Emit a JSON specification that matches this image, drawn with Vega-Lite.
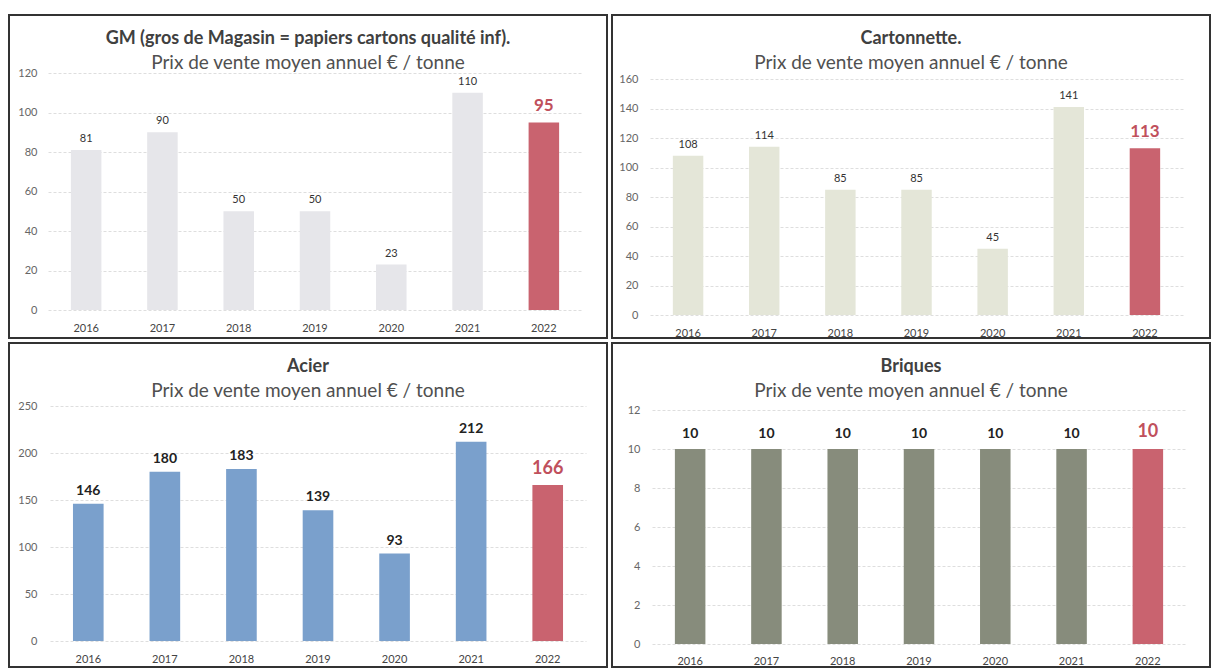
{
  "$schema": "https://vega.github.io/schema/vega-lite/v6.json",
  "background": "white",
  "padding": {"left": 8, "top": 14, "right": 0, "bottom": 0},
  "config": {
    "font": "Lato",
    "view": {"stroke": "#333333", "strokeWidth": 2},
    "concat": {"spacing": 3},
    "axis": {"labelFont": "Lato", "labelColor": "#666666", "labelFontSize": 11},
    "title": {"font": "Lato", "fontSize": 18, "fontWeight": "bold", "color": "#404040", "subtitleFont": "Lato", "subtitleFontSize": 19, "subtitleColor": "#505050", "subtitlePadding": 6, "anchor": "middle", "offset": -58}
  },
  "datasets": {
    "prix": [
      {"panel": "GM", "year": "2016", "value": 81},
      {"panel": "GM", "year": "2017", "value": 90},
      {"panel": "GM", "year": "2018", "value": 50},
      {"panel": "GM", "year": "2019", "value": 50},
      {"panel": "GM", "year": "2020", "value": 23},
      {"panel": "GM", "year": "2021", "value": 110},
      {"panel": "GM", "year": "2022", "value": 95},
      {"panel": "Cartonnette", "year": "2016", "value": 108},
      {"panel": "Cartonnette", "year": "2017", "value": 114},
      {"panel": "Cartonnette", "year": "2018", "value": 85},
      {"panel": "Cartonnette", "year": "2019", "value": 85},
      {"panel": "Cartonnette", "year": "2020", "value": 45},
      {"panel": "Cartonnette", "year": "2021", "value": 141},
      {"panel": "Cartonnette", "year": "2022", "value": 113},
      {"panel": "Acier", "year": "2016", "value": 146},
      {"panel": "Acier", "year": "2017", "value": 180},
      {"panel": "Acier", "year": "2018", "value": 183},
      {"panel": "Acier", "year": "2019", "value": 139},
      {"panel": "Acier", "year": "2020", "value": 93},
      {"panel": "Acier", "year": "2021", "value": 212},
      {"panel": "Acier", "year": "2022", "value": 166},
      {"panel": "Briques", "year": "2016", "value": 10},
      {"panel": "Briques", "year": "2017", "value": 10},
      {"panel": "Briques", "year": "2018", "value": 10},
      {"panel": "Briques", "year": "2019", "value": 10},
      {"panel": "Briques", "year": "2020", "value": 10},
      {"panel": "Briques", "year": "2021", "value": 10},
      {"panel": "Briques", "year": "2022", "value": 10}
    ]
  },
  "columns": 2,
  "concat": [
    {
      "width": 598, "height": 323,
      "data": {"name": "prix"},
      "transform": [{"filter": "datum.panel == 'GM'"}],
      "title": {"text": "GM (gros de Magasin = papiers cartons qualité inf).", "subtitle": "Prix de vente moyen annuel €  / tonne"},
      "encoding": {
        "x": {"field": "year", "type": "ordinal", "title": null,
          "scale": {"range": [39, 573], "paddingInner": 0.6, "paddingOuter": 0.3},
          "axis": {"offset": -26, "domain": false, "ticks": false, "labelPadding": 10, "labelAngle": 0, "labelColor": "#444444"}},
        "y": {"field": "value", "type": "quantitative", "title": null,
          "scale": {"domain": [0, 120], "range": [295, 58], "nice": false},
          "axis": {"values": [0, 20, 40, 60, 80, 100, 120], "offset": -38, "domain": false, "ticks": false, "labelPadding": 10, "gridColor": "#dedede", "gridDash": [3, 2]}}
      },
      "layer": [
        {"mark": {"type": "bar"}, "encoding": {"color": {"condition": {"test": "datum.year == '2022'", "value": "#c9636f"}, "value": "#e6e6ea"}}},
        {"transform": [{"filter": "datum.year != '2022'"}], "mark": {"type": "text", "baseline": "bottom", "dy": -6, "fontSize": 11, "color": "#333333"}, "encoding": {"text": {"field": "value"}}},
        {"transform": [{"filter": "datum.year == '2022'"}], "mark": {"type": "text", "baseline": "bottom", "dy": -7, "fontSize": 17, "fontWeight": "bold", "color": "#c0505c"}, "encoding": {"text": {"field": "value"}}}
      ]
    },
    {
      "width": 598, "height": 323,
      "data": {"name": "prix"},
      "transform": [{"filter": "datum.panel == 'Cartonnette'"}],
      "title": {"text": "Cartonnette.", "subtitle": "Prix de vente moyen annuel  € / tonne"},
      "encoding": {
        "x": {"field": "year", "type": "ordinal", "title": null,
          "scale": {"range": [38, 571], "paddingInner": 0.6, "paddingOuter": 0.3},
          "axis": {"offset": -21, "domain": false, "ticks": false, "labelPadding": 10, "labelAngle": 0, "labelColor": "#444444"}},
        "y": {"field": "value", "type": "quantitative", "title": null,
          "scale": {"domain": [0, 160], "range": [300, 64], "nice": false},
          "axis": {"values": [0, 20, 40, 60, 80, 100, 120, 140, 160], "offset": -36, "domain": false, "ticks": false, "labelPadding": 10, "gridColor": "#dedede", "gridDash": [3, 2]}}
      },
      "layer": [
        {"mark": {"type": "bar"}, "encoding": {"color": {"condition": {"test": "datum.year == '2022'", "value": "#c9636f"}, "value": "#e4e6d8"}}},
        {"transform": [{"filter": "datum.year != '2022'"}], "mark": {"type": "text", "baseline": "bottom", "dy": -6, "fontSize": 11, "color": "#333333"}, "encoding": {"text": {"field": "value"}}},
        {"transform": [{"filter": "datum.year == '2022'"}], "mark": {"type": "text", "baseline": "bottom", "dy": -7, "fontSize": 17, "fontWeight": "bold", "color": "#c0505c"}, "encoding": {"text": {"field": "value"}}}
      ]
    },
    {
      "width": 598, "height": 324,
      "data": {"name": "prix"},
      "transform": [{"filter": "datum.panel == 'Acier'"}],
      "title": {"text": "Acier", "subtitle": "Prix de vente moyen annuel  € / tonne"},
      "encoding": {
        "x": {"field": "year", "type": "ordinal", "title": null,
          "scale": {"range": [41, 577], "paddingInner": 0.6, "paddingOuter": 0.3},
          "axis": {"offset": -24, "domain": false, "ticks": false, "labelPadding": 10, "labelAngle": 0, "labelColor": "#444444"}},
        "y": {"field": "value", "type": "quantitative", "title": null,
          "scale": {"domain": [0, 250], "range": [298, 63], "nice": false},
          "axis": {"values": [0, 50, 100, 150, 200, 250], "offset": -38, "domain": false, "ticks": false, "labelPadding": 10, "gridColor": "#dedede", "gridDash": [3, 2]}}
      },
      "layer": [
        {"mark": {"type": "bar"}, "encoding": {"color": {"condition": {"test": "datum.year == '2022'", "value": "#c9636f"}, "value": "#7aa0cc"}}},
        {"transform": [{"filter": "datum.year != '2022'"}], "mark": {"type": "text", "baseline": "bottom", "dy": -6, "fontSize": 14, "fontWeight": "bold", "color": "#222222"}, "encoding": {"text": {"field": "value"}}},
        {"transform": [{"filter": "datum.year == '2022'"}], "mark": {"type": "text", "baseline": "bottom", "dy": -7, "fontSize": 18, "fontWeight": "bold", "color": "#c0505c"}, "encoding": {"text": {"field": "value"}}}
      ]
    },
    {
      "width": 598, "height": 324,
      "data": {"name": "prix"},
      "transform": [{"filter": "datum.panel == 'Briques'"}],
      "title": {"text": "Briques", "subtitle": "Prix de vente moyen annuel  € / tonne"},
      "encoding": {
        "x": {"field": "year", "type": "ordinal", "title": null,
          "scale": {"range": [40, 574], "paddingInner": 0.6, "paddingOuter": 0.3},
          "axis": {"offset": -22, "domain": false, "ticks": false, "labelPadding": 10, "labelAngle": 0, "labelColor": "#444444"}},
        "y": {"field": "value", "type": "quantitative", "title": null,
          "scale": {"domain": [0, 12], "range": [301, 67], "nice": false},
          "axis": {"values": [0, 2, 4, 6, 8, 10, 12], "offset": -38, "domain": false, "ticks": false, "labelPadding": 10, "gridColor": "#dedede", "gridDash": [3, 2]}}
      },
      "layer": [
        {"mark": {"type": "bar"}, "encoding": {"color": {"condition": {"test": "datum.year == '2022'", "value": "#c9636f"}, "value": "#878c7c"}}},
        {"transform": [{"filter": "datum.year != '2022'"}], "mark": {"type": "text", "baseline": "bottom", "dy": -8, "fontSize": 14, "fontWeight": "bold", "color": "#222222"}, "encoding": {"text": {"field": "value"}}},
        {"transform": [{"filter": "datum.year == '2022'"}], "mark": {"type": "text", "baseline": "bottom", "dy": -8, "fontSize": 18, "fontWeight": "bold", "color": "#c0505c"}, "encoding": {"text": {"field": "value"}}}
      ]
    }
  ]
}
